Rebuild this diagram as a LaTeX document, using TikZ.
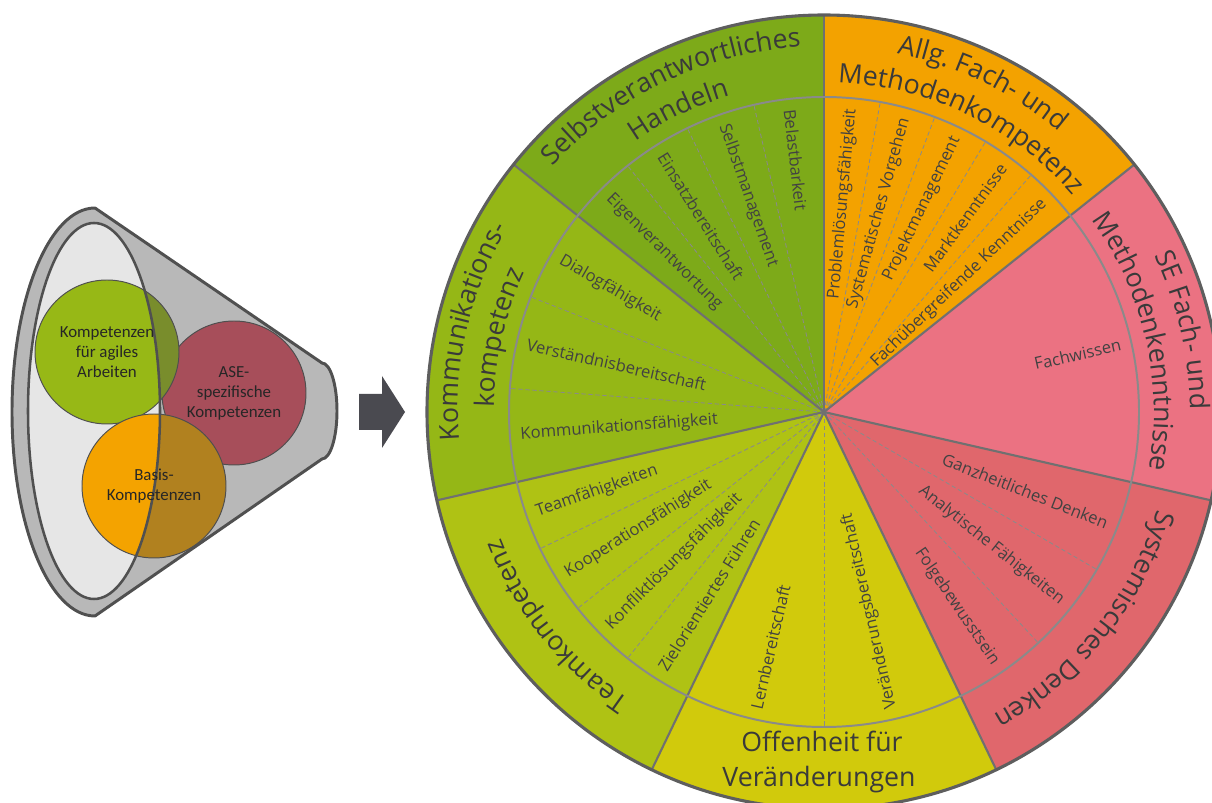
\documentclass[tikz,border=0pt]{standalone}
\usepackage{fontspec}
\setmainfont{Open Sans}
\newfontfamily\funnelfont{Carlito}
\usepackage{tikz}
\usetikzlibrary{decorations.text}
\definecolor{selbstgreen}{RGB}{125,170,25}
\definecolor{kommgreen}{RGB}{149,183,22}
\definecolor{teamgreen}{RGB}{175,194,20}
\definecolor{offenyellow}{RGB}{209,202,12}
\definecolor{systemred}{RGB}{224,103,108}
\definecolor{sepink}{RGB}{235,114,130}
\definecolor{allgorange}{RGB}{243,162,0}
\definecolor{rimgray}{RGB}{94,94,94}
\definecolor{spokegray}{RGB}{112,112,112}
\definecolor{ringgray}{RGB}{138,138,138}
\definecolor{textgray}{RGB}{58,58,58}
\definecolor{itemgray}{RGB}{66,66,66}
\definecolor{shadegray}{RGB}{78,78,78}
\definecolor{funnelline}{RGB}{80,80,80}
\definecolor{funnelinner}{RGB}{230,230,230}
\definecolor{agilegreen}{RGB}{151,184,22}
\definecolor{asered}{RGB}{227,78,98}
\definecolor{basisorange}{RGB}{244,163,0}
\definecolor{arrowgray}{RGB}{74,74,80}

\newcommand{\ringfont}{\fontsize{19}{23}\selectfont\color{textgray}}
\newcommand{\itemfont}{\fontsize{11.8}{13}\selectfont}

\tikzset{
  item in/.style={anchor=west, inner sep=1pt, text=itemgray, font=\itemfont},
  item out/.style={anchor=east, inner sep=1pt, text=itemgray, font=\itemfont},
  ring text/.style={decorate, decoration={text along path, text align=center, text={|\ringfont|#1}}},
  spoke/.style={spokegray, line width=1.5pt},
  divider/.style={ringgray, dashed, line width=0.6pt, dash pattern=on 3pt off 2pt},
  bubble/.style={draw=funnelline, line width=0.7pt},
  bubble text/.style={align=center, font=\funnelfont\fontsize{12}{14.2}\selectfont, text=black!85}
}

\begin{document}
\begin{tikzpicture}[x=0.025cm, y=0.025cm]
    \useasboundingbox (0,0) rectangle (1212,803);
    \clip (0,0) rectangle (1212,803);

    % Funnel
    \fill[funnelinner] (94,392) ellipse [x radius=66, y radius=188];
    \filldraw[bubble, fill=asered] (234,410) circle [radius=72];
    \filldraw[bubble, fill=agilegreen] (107,451) circle [radius=72];
    \filldraw[bubble, fill=basisorange] (154,317) circle [radius=72];
    \fill[shadegray, fill opacity=0.4, even odd rule]
        (95,595) -- (322,440) arc[start angle=90, end angle=-90, x radius=15, y radius=48]
        -- (95,187) arc[start angle=270, end angle=90, x radius=83, y radius=204] -- cycle
        (94,392) ellipse [x radius=66, y radius=188];
    \draw[funnelline, line width=2.1pt, line join=round]
        (95,595) -- (322,440) arc[start angle=90, end angle=-90, x radius=15, y radius=48]
        -- (95,187) arc[start angle=270, end angle=90, x radius=83, y radius=204] -- cycle;
    \draw[funnelline, line width=1.8pt] (94,392) ellipse [x radius=66, y radius=188];
    \node[bubble text] (agile) at (107,451) {Kompetenzen\\für agiles\\Arbeiten};
    \node[bubble text] (ase) at (234,410) {ASE-\\spezifische\\Kompetenzen};
    \node[bubble text] (basis) at (154,317) {Basis-\\Kompetenzen};

    % Arrow
    \fill[arrowgray] (359,373) -- (382,373) -- (382,355) -- (405,391) -- (382,427) -- (382,409) -- (359,409) -- cycle;

    % Wheel
    \begin{scope}[shift={(824,391)}]
    % sectors
    \fill[selbstgreen] (0,0) -- (90:397) arc[start angle=90, end angle=141.43, radius=397] -- cycle;
    \fill[kommgreen] (0,0) -- (141.43:397) arc[start angle=141.43, end angle=192.86, radius=397] -- cycle;
    \fill[teamgreen] (0,0) -- (192.86:397) arc[start angle=192.86, end angle=244.29, radius=397] -- cycle;
    \fill[offenyellow] (0,0) -- (244.29:397) arc[start angle=244.29, end angle=295.71, radius=397] -- cycle;
    \fill[systemred] (0,0) -- (295.71:397) arc[start angle=295.71, end angle=347.14, radius=397] -- cycle;
    \fill[sepink] (0,0) -- (-12.86:397) arc[start angle=-12.86, end angle=38.57, radius=397] -- cycle;
    \fill[allgorange] (0,0) -- (38.57:397) arc[start angle=38.57, end angle=90, radius=397] -- cycle;

    % dashed dividers
    \draw[divider] (0,0) -- (102.86:315);
    \draw[divider] (0,0) -- (115.71:315);
    \draw[divider] (0,0) -- (128.57:315);
    \draw[divider] (0,0) -- (158.57:315);
    \draw[divider] (0,0) -- (175.71:315);
    \draw[divider] (0,0) -- (205.71:315);
    \draw[divider] (0,0) -- (218.57:315);
    \draw[divider] (0,0) -- (231.43:315);
    \draw[divider] (0,0) -- (270:315);
    \draw[divider] (0,0) -- (312.86:315);
    \draw[divider] (0,0) -- (330:315);
    \draw[divider] (0,0) -- (48.86:315);
    \draw[divider] (0,0) -- (59.14:315);
    \draw[divider] (0,0) -- (69.43:315);
    \draw[divider] (0,0) -- (79.71:315);

    % spokes and rings
    \draw[spoke] (0,0) -- (90:397);
    \draw[spoke] (0,0) -- (141.43:397);
    \draw[spoke] (0,0) -- (192.86:397);
    \draw[spoke] (0,0) -- (244.29:397);
    \draw[spoke] (0,0) -- (295.71:397);
    \draw[spoke] (0,0) -- (347.14:397);
    \draw[spoke] (0,0) -- (38.57:397);
    \draw[ringgray, line width=1.4pt] (0,0) circle [radius=315];
    \draw[rimgray, line width=2.2pt] (0,0) circle [radius=397];

    % ring labels
    \path[ring text={Selbstverantwortliches}] (145.71:366) arc[start angle=145.71, end angle=85.71, radius=366];
    \path[ring text={Handeln}] (145.71:330) arc[start angle=145.71, end angle=85.71, radius=330];
    \path[ring text={Allg. Fach- und}] (94.29:366) arc[start angle=94.29, end angle=34.29, radius=366];
    \path[ring text={Methodenkompetenz}] (94.29:330) arc[start angle=94.29, end angle=34.29, radius=330];
    \path[ring text={SE Fach- und}] (42.86:366) arc[start angle=42.86, end angle=-17.14, radius=366];
    \path[ring text={Methodenkenntnisse}] (42.86:330) arc[start angle=42.86, end angle=-17.14, radius=330];
    \path[ring text={Systemisches Denken}] (351.43:347) arc[start angle=351.43, end angle=291.43, radius=347];
    \path[ring text={Teamkompetenz}] (248.57:347) arc[start angle=248.57, end angle=188.57, radius=347];
    \path[ring text={Kommunikations-}] (197.14:366) arc[start angle=197.14, end angle=137.14, radius=366];
    \path[ring text={kompetenz}] (197.14:330) arc[start angle=197.14, end angle=137.14, radius=330];
    \node[anchor=base, inner sep=0pt, font=\ringfont] (offenA) at (-2,-340) {Offenheit für};
    \node[anchor=base, inner sep=0pt, font=\ringfont] (offenB) at (-5,-375) {Veränderungen};

    % item labels
    \node[item in, rotate=-83.57] (belast) at (96.43:306) {Belastbarkeit};
    \node[item in, rotate=-70.71] (selbstman) at (109.29:306) {Selbstmanagement};
    \node[item in, rotate=-57.86] (einsatz) at (122.14:306) {Einsatzbereitschaft};
    \node[item in, rotate=-45] (eigenv) at (135:306) {Eigenverantwortung};
    \node[item in, rotate=-30] (dialog) at (150:306) {Dialogfähigkeit};
    \node[item in, rotate=-12.86] (verst) at (167.14:306) {Verständnisbereitschaft};
    \node[item in, rotate=4.29] (kommf) at (184.29:306) {Kommunikationsfähigkeit};
    \node[item in, rotate=19.29] (teamf) at (199.29:306) {Teamfähigkeiten};
    \node[item in, rotate=32.14] (koop) at (212.14:306) {Kooperationsfähigkeit};
    \node[item in, rotate=45] (konfl) at (225:306) {Konfliktlösungsfähigkeit};
    \node[item in, rotate=57.86] (ziel) at (237.86:306) {Zielorientiertes Führen};
    \node[item in, rotate=77.14] (lern) at (257.14:306) {Lernbereitschaft};
    \node[item in, rotate=102.86] (veraend) at (282.86:306) {Veränderungsbereitschaft};
    \node[item out, rotate=-55.71] (folge) at (304.29:306) {Folgebewusstsein};
    \node[item out, rotate=-38.57] (analyt) at (321.43:306) {Analytische Fähigkeiten};
    \node[item out, rotate=-21.43] (ganzh) at (338.57:306) {Ganzheitliches Denken};
    \node[item out, rotate=12.86] (fachw) at (12.86:306) {Fachwissen};
    \node[item out, rotate=43.71] (fachueb) at (43.71:306) {Fachübergreifende Kenntnisse};
    \node[item out, rotate=54] (markt) at (54:306) {Marktkenntnisse};
    \node[item out, rotate=64.29] (projekt) at (64.29:306) {Projektmanagement};
    \node[item out, rotate=74.57] (systv) at (74.57:306) {Systematisches Vorgehen};
    \node[item out, rotate=84.86] (problem) at (84.86:306) {Problemlösungsfähigkeit};
    \end{scope}
\end{tikzpicture}
\end{document}
